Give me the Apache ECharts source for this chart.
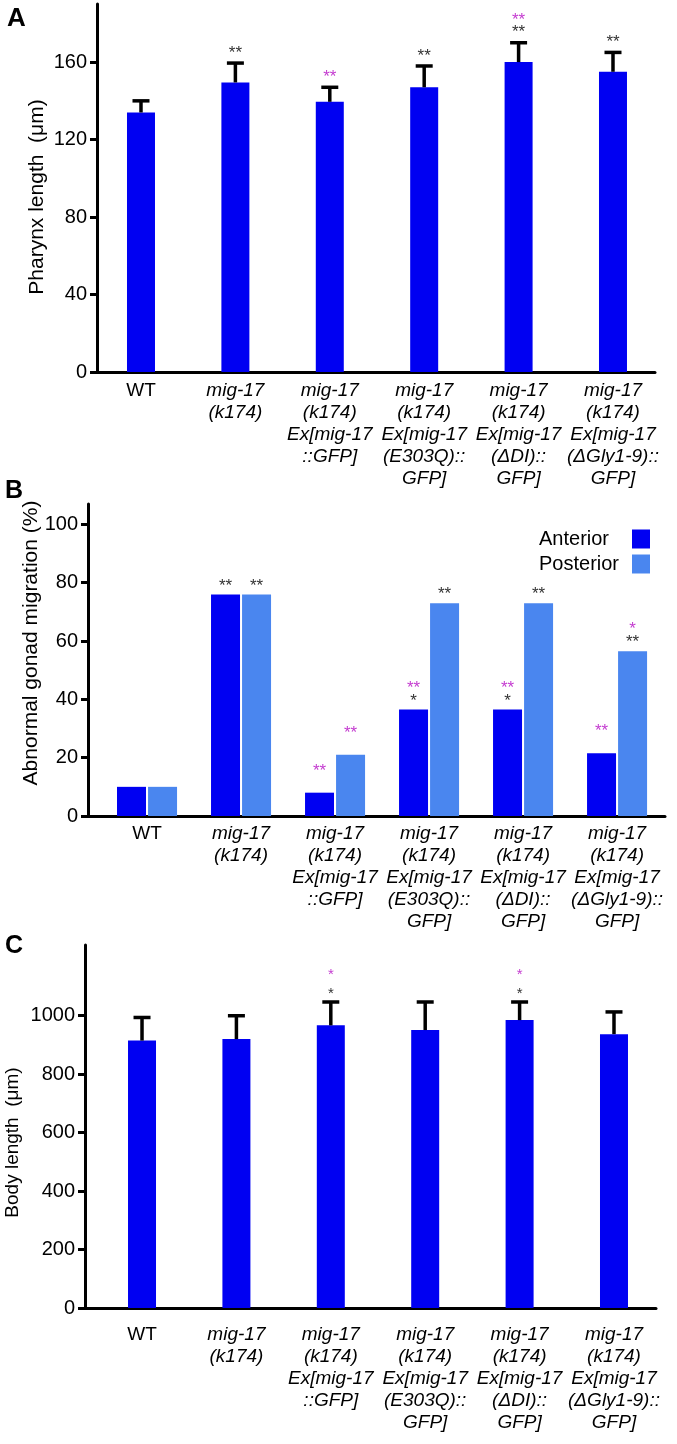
<!DOCTYPE html>
<html><head><meta charset="utf-8">
<script src="https://cdn.jsdelivr.net/npm/echarts@6/dist/echarts.min.js"></script>
<style>html,body{margin:0;padding:0;background:#fff}#c{width:677px;height:1444px}</style>
</head><body><div id="c"></div>
<script>
// ---------- data ----------
const categories = [
  'WT',
  'mig-17\n(k174)',
  'mig-17\n(k174)\nEx[mig-17\n::GFP]',
  'mig-17\n(k174)\nEx[mig-17\n(E303Q)::\nGFP]',
  'mig-17\n(k174)\nEx[mig-17\n(ΔDI)::\nGFP]',
  'mig-17\n(k174)\nEx[mig-17\n(ΔGly1-9)::\nGFP]'
];
const categoryIndex = [0, 1, 2, 3, 4, 5];

const pharynxMean = [134, 149.5, 139.5, 147, 160, 155];
const pharynxErr = [6, 10, 7.5, 11, 10, 10];
const pharynxSigBlack = ['', '**', '', '**', '**', '**'];
const pharynxSigMagenta = ['', '', '**', '', '**', ''];
const pharynxTicks = [0, 40, 80, 120, 160];

const gonadAnterior = [10, 76, 8, 36.5, 36.5, 21.5];
const gonadPosterior = [10, 76, 21, 73, 73, 56.5];
const gonadAntSigBlack = ['', '**', '', '*', '*', ''];
const gonadAntSigMagenta = ['', '', '**', '**', '**', '**'];
const gonadPostSigBlack = ['', '**', '', '**', '**', '**'];
const gonadPostSigMagenta = ['', '', '**', '', '', '*'];
const gonadTicks = [0, 20, 40, 60, 80, 100];

const bodyMean = [915, 920, 967, 951, 985, 937];
const bodyErr = [79, 80, 80, 96, 62, 76];
const bodySigBlack = ['', '', '*', '', '*', ''];
const bodySigMagenta = ['', '', '*', '', '*', ''];
const bodyTicks = [0, 200, 400, 600, 800, 1000];

// ---------- styling ----------
const FONT = '"Liberation Sans", Arial, Helvetica, sans-serif';
const BLUE = '#0000f2';
const LIGHT = '#4a86ef';
const BLACK_STAR = '#333333';
const MAG_STAR = '#c43cd0';

const chart = echarts.init(document.getElementById('c'), null, {renderer: 'canvas'});

function xAxisFor(gridIndex, min, max, margin) {
  return {
    type: 'value', gridIndex, min, max,
    splitLine: {show: false},
    axisTick: {show: false},
    axisLine: {onZero: false, lineStyle: {color: '#000', width: 3}},
    axisLabel: {
      customValues: categoryIndex,
      margin,
      formatter: v => {
        const t = categories[Math.round(v)];
        if (Math.round(v) === 0) return '{n|' + t + '}';
        return t.split('\n').map(s => '{i|' + s + '}').join('\n');
      },
      rich: {
        n: {fontFamily: FONT, fontSize: 19, lineHeight: 22, color: '#000', fontStyle: 'normal'},
        i: {fontFamily: FONT, fontSize: 19, lineHeight: 22, color: '#000', fontStyle: 'italic'}
      }
    }
  };
}
function yAxisFor(gridIndex, max, ticks, name, nameGap, nameSize, namePad) {
  return {
    type: 'value', gridIndex, min: 0, max,
    name, nameLocation: 'middle', nameGap, nameMoveOverlap: false,
    nameTextStyle: {fontFamily: FONT, fontSize: nameSize, color: '#000', padding: namePad},
    splitLine: {show: false},
    axisLine: {show: true, onZero: false, lineStyle: {color: '#000', width: 3}},
    axisTick: {show: true, customValues: ticks, length: 7, lineStyle: {color: '#000', width: 3}},
    axisLabel: {customValues: ticks, margin: 10, fontFamily: FONT, fontSize: 20, color: '#000',
      formatter: v => String(v)}
  };
}

function errorSeries(xAxisIndex, yAxisIndex, mean, err, sigB, sigM, opt) {
  return {
    type: 'custom', xAxisIndex, yAxisIndex, z: 5,
    data: categoryIndex.map(i => [i, mean[i], err[i]]),
    encode: {x: 0, y: 1},
    renderItem: (params, api) => {
      const i = params.dataIndex;
      const base = api.coord([api.value(0), api.value(1)]);
      const top = api.coord([api.value(0), api.value(1) + api.value(2)]);
      const children = [
        {type: 'line', shape: {x1: base[0], y1: base[1], x2: top[0], y2: top[1]},
         style: {stroke: '#000', lineWidth: 3.5}},
        {type: 'line', shape: {x1: top[0] - 8.5, y1: top[1], x2: top[0] + 8.5, y2: top[1]},
         style: {stroke: '#000', lineWidth: 3.5}}
      ];
      let y = top[1] - opt.gap;
      if (sigB[i]) {
        children.push({type: 'text', x: top[0], y: y + opt.shift,
          style: {text: sigB[i], fill: BLACK_STAR, font: opt.font, align: 'center', verticalAlign: 'middle'}});
        y -= opt.step;
      }
      if (sigM[i]) {
        children.push({type: 'text', x: top[0], y: y + opt.shift,
          style: {text: sigM[i], fill: MAG_STAR, font: opt.font, align: 'center', verticalAlign: 'middle'}});
      }
      return {type: 'group', children};
    }
  };
}

function gonadLabel(sigB, sigM) {
  return {
    show: true, position: 'top', distance: 2,
    formatter: p => {
      const b = sigB[p.dataIndex], m = sigM[p.dataIndex];
      if (!b && !m) return '';
      return '{m|' + (m || ' ') + '}\n{b|' + (b || ' ') + '}';
    },
    rich: {
      m: {fontFamily: FONT, fontSize: 17, lineHeight: 13, color: MAG_STAR, align: 'center'},
      b: {fontFamily: FONT, fontSize: 17, lineHeight: 13, color: BLACK_STAR, align: 'center'}
    }
  };
}

const option = {
  backgroundColor: '#fff',
  animation: false,
  graphic: [
    {type: 'text', left: 7, top: 6, style: {text: 'A', font: 'bold 26px ' + FONT, fill: '#000'}},
    {type: 'text', left: 5, top: 479, style: {text: 'B', font: 'bold 25px ' + FONT, fill: '#000'}},
    {type: 'text', left: 5, top: 934, style: {text: 'C', font: 'bold 25px ' + FONT, fill: '#000'}}
  ],
  grid: [
    {left: 97, right: 22, top: 4, bottom: 1072, outerBoundsMode: 'none', containLabel: false},
    {left: 88, right: 12, top: 504, bottom: 628, outerBoundsMode: 'none', containLabel: false},
    {left: 85, right: 21, top: 945, bottom: 136, outerBoundsMode: 'none', containLabel: false}
  ],
  legend: {
    data: ['Anterior', 'Posterior'],
    orient: 'vertical', right: 27, top: 529, padding: 0,
    itemWidth: 18, itemHeight: 19, itemGap: 5, align: 'right',
    icon: 'rect',
    formatter: name => '{a|' + name + '}',
    textStyle: {fontFamily: FONT, fontSize: 20, color: '#000',
      rich: {a: {fontFamily: FONT, fontSize: 20, color: '#000', width: 88, align: 'left'}}}
  },
  xAxis: [
    xAxisFor(0, -0.466, 5.445, 8),
    xAxisFor(1, -0.628, 5.51, 7),
    xAxisFor(2, -0.604, 5.445, 16)
  ],
  yAxis: [
    yAxisFor(0, 190, pharynxTicks, 'Pharynx length  (\u03bcm)', 49, 21, [0, 18, 0, 0]),
    yAxisFor(1, 107, gonadTicks, 'Abnormal gonad migration (%)', 46, 21, [0, 0, 0, 34]),
    yAxisFor(2, 1242, bodyTicks, 'Body length  (\u03bcm)', 63, 19, [0, 32, 0, 0])
  ],
  series: [
    {type: 'bar', xAxisIndex: 0, yAxisIndex: 0, barWidth: 28,
     itemStyle: {color: BLUE},
     data: categoryIndex.map(i => [i, pharynxMean[i]])},
    errorSeries(0, 0, pharynxMean, pharynxErr, pharynxSigBlack, pharynxSigMagenta,
      {gap: 15, step: 12, shift: 5, font: '17px ' + FONT}),

    {type: 'bar', name: 'Anterior', xAxisIndex: 1, yAxisIndex: 1, barWidth: 29, barGap: '7%',
     itemStyle: {color: BLUE},
     label: gonadLabel(gonadAntSigBlack, gonadAntSigMagenta),
     data: categoryIndex.map(i => [i, gonadAnterior[i]])},
    {type: 'bar', name: 'Posterior', xAxisIndex: 1, yAxisIndex: 1, barWidth: 29, barGap: '7%',
     itemStyle: {color: LIGHT},
     label: gonadLabel(gonadPostSigBlack, gonadPostSigMagenta),
     data: categoryIndex.map(i => [i, gonadPosterior[i]])},

    {type: 'bar', xAxisIndex: 2, yAxisIndex: 2, barWidth: 28,
     itemStyle: {color: BLUE},
     data: categoryIndex.map(i => [i, bodyMean[i]])},
    errorSeries(2, 2, bodyMean, bodyErr, bodySigBlack, bodySigMagenta,
      {gap: 12, step: 19, shift: 4, font: '15px ' + FONT})
  ]
};
chart.setOption(option);
</script>
</body></html>
